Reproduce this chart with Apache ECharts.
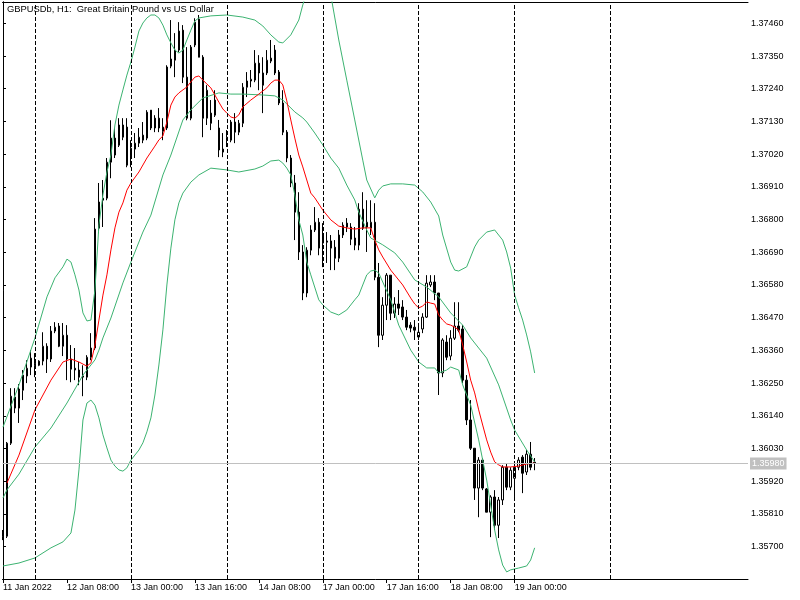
<!DOCTYPE html>
<html><head><meta charset="utf-8">
<script src="https://cdn.jsdelivr.net/npm/echarts@6/dist/echarts.min.js"></script>
<style>html,body{margin:0;padding:0;background:#fff}#c{width:800px;height:600px}</style>
</head><body><div id="c"></div>
<script>
const titleText = 'GBPUSDb, H1:  Great Britain Pound vs US Dollar';
const xTickBars = [0,16,32,48,64,80,96,112,128];
const xTickLabels = ['11 Jan 2022','12 Jan 08:00','13 Jan 00:00','13 Jan 16:00','14 Jan 08:00','17 Jan 00:00','17 Jan 16:00','18 Jan 08:00','19 Jan 00:00'];
const separatorBars = [8,32,56,80,104,128,152];
const yTicks = [1.357,1.3581,1.3592,1.3603,1.3614,1.3625,1.3636,1.3647,1.3658,1.3669,1.368,1.3691,1.3702,1.3713,1.3724,1.3735,1.3746];
const lastPrice = 1.35980;

const open = [1.35749,1.35735,1.36048,1.36203,1.36166,1.36226,1.36274,1.36304,1.36317,1.36310,
1.36324,1.36374,1.36331,1.36425,1.36442,1.36374,1.36411,1.36331,1.36300,1.36294,
1.36270,1.36270,1.36337,1.36368,1.36771,1.36865,1.36872,1.36993,1.37074,1.37050,
1.37077,1.37111,1.37017,1.37037,1.37057,1.37067,1.37161,1.37168,1.37141,1.37141,
1.37097,1.37108,1.37316,1.37336,1.37370,1.37437,1.37279,1.37141,1.37387,1.37474,
1.37346,1.37141,1.37158,1.37151,1.37108,1.37037,1.37067,1.37067,1.37128,1.37094,
1.37124,1.37245,1.37266,1.37269,1.37326,1.37293,1.37293,1.37333,1.37370,1.37296,
1.37192,1.37094,1.37007,1.36923,1.36825,1.36691,1.36553,1.36697,1.36765,1.36791,
1.36748,1.36728,1.36728,1.36707,1.36670,1.36748,1.36788,1.36775,1.36738,1.36714,
1.36835,1.36775,1.36771,1.36791,1.36606,1.36411,1.36512,1.36613,1.36485,1.36516,
1.36506,1.36472,1.36445,1.36438,1.36405,1.36432,1.36472,1.36580,1.36590,1.36553,
1.36284,1.36388,1.36341,1.36401,1.36442,1.36432,1.36260,1.36126,1.36031,1.35897,
1.35991,1.35894,1.35816,1.35867,1.35772,1.35857,1.35967,1.35900,1.35930,1.35967,
1.36001,1.35951,1.36011,1.35984];
const high = [1.35756,1.36052,1.36233,1.36233,1.36247,1.36294,1.36327,1.36361,1.36351,1.36327,
1.36421,1.36384,1.36442,1.36455,1.36452,1.36452,1.36445,1.36378,1.36368,1.36321,
1.36310,1.36344,1.36418,1.36805,1.36923,1.36933,1.37007,1.37134,1.37108,1.37141,
1.37141,1.37141,1.37067,1.37091,1.37108,1.37128,1.37168,1.37168,1.37151,1.37175,
1.37141,1.37319,1.37471,1.37427,1.37464,1.37454,1.37380,1.37387,1.37477,1.37488,
1.37353,1.37252,1.37202,1.37235,1.37135,1.37091,1.37101,1.37135,1.37158,1.37135,
1.37259,1.37296,1.37303,1.37370,1.37353,1.37346,1.37370,1.37404,1.37387,1.37303,
1.37235,1.37101,1.37017,1.36950,1.36892,1.36714,1.36707,1.36781,1.36842,1.36805,
1.36788,1.36758,1.36748,1.36731,1.36765,1.36791,1.36805,1.36788,1.36775,1.36855,
1.36892,1.36865,1.36865,1.36855,1.36654,1.36539,1.36620,1.36613,1.36539,1.36563,
1.36529,1.36496,1.36455,1.36462,1.36445,1.36485,1.36613,1.36613,1.36613,1.36553,
1.36401,1.36411,1.36428,1.36522,1.36522,1.36445,1.36277,1.36193,1.36031,1.36001,
1.35998,1.35897,1.35873,1.35890,1.35867,1.35974,1.35981,1.35967,1.35981,1.36001,
1.36008,1.36025,1.36052,1.35998];
const low = [1.35722,1.35729,1.36042,1.36149,1.36116,1.36193,1.36250,1.36277,1.36270,1.36307,
1.36310,1.36284,1.36321,1.36418,1.36371,1.36341,1.36260,1.36253,1.36260,1.36243,
1.36206,1.36260,1.36327,1.36361,1.36754,1.36775,1.36865,1.36939,1.37007,1.37044,
1.37067,1.36976,1.36976,1.37007,1.37044,1.37057,1.37067,1.37101,1.37094,1.37094,
1.37067,1.37101,1.37309,1.37279,1.37363,1.37259,1.37134,1.37134,1.37380,1.37346,
1.37077,1.37118,1.37101,1.37145,1.37010,1.37010,1.37044,1.37060,1.37057,1.37084,
1.37111,1.37212,1.37245,1.37262,1.37235,1.37158,1.37286,1.37326,1.37286,1.37185,
1.37084,1.36993,1.36909,1.36731,1.36664,1.36529,1.36539,1.36680,1.36758,1.36680,
1.36640,1.36654,1.36630,1.36630,1.36657,1.36738,1.36758,1.36714,1.36697,1.36697,
1.36765,1.36691,1.36748,1.36596,1.36371,1.36395,1.36462,1.36462,1.36469,1.36479,
1.36462,1.36428,1.36421,1.36395,1.36395,1.36418,1.36469,1.36573,1.36529,1.36210,
1.36270,1.36327,1.36327,1.36395,1.36421,1.36250,1.36109,1.36025,1.35857,1.35799,
1.35890,1.35816,1.35732,1.35756,1.35729,1.35840,1.35890,1.35890,1.35867,1.35957,
1.35880,1.35941,1.35957,1.35957];
const close = [1.35735,1.36048,1.36206,1.36166,1.36230,1.36277,1.36300,1.36334,1.36310,1.36324,
1.36374,1.36331,1.36425,1.36438,1.36374,1.36411,1.36331,1.36297,1.36294,1.36270,
1.36274,1.36337,1.36368,1.36768,1.36859,1.36872,1.36993,1.37074,1.37017,1.37118,
1.37118,1.36983,1.37040,1.37057,1.37077,1.37084,1.37074,1.37108,1.37108,1.37108,
1.37111,1.37313,1.37340,1.37370,1.37434,1.37279,1.37141,1.37380,1.37464,1.37346,
1.37141,1.37235,1.37124,1.37202,1.37034,1.37027,1.37077,1.37128,1.37094,1.37124,
1.37245,1.37266,1.37272,1.37326,1.37293,1.37252,1.37336,1.37343,1.37293,1.37192,
1.37094,1.37007,1.36923,1.36825,1.36691,1.36553,1.36697,1.36765,1.36791,1.36704,
1.36721,1.36724,1.36704,1.36670,1.36748,1.36781,1.36775,1.36734,1.36714,1.36835,
1.36771,1.36791,1.36791,1.36606,1.36411,1.36512,1.36613,1.36485,1.36516,1.36502,
1.36472,1.36438,1.36435,1.36428,1.36421,1.36472,1.36586,1.36590,1.36553,1.36284,
1.36395,1.36337,1.36401,1.36442,1.36428,1.36260,1.36126,1.36031,1.35897,1.35991,
1.35897,1.35816,1.35867,1.35772,1.35857,1.35967,1.35900,1.35957,1.35967,1.35991,
1.35947,1.36011,1.35967,1.35980];

const bbUpper = [[0,1.36102],[4,1.36244],[8,1.36402],[11,1.36540],[13,1.36604],[15,1.36641],[16,1.36667],[17,1.36657],[18,1.36614],[19,1.36563],[20,1.36486],[21,1.36459],[22,1.36462],[23,1.36563],[24,1.36782],[25,1.36883],[26,1.36960],[27,1.37017],[28,1.37118],[29,1.37185],[30,1.37236],[31,1.37286],[32,1.37330],[33,1.37380],[34,1.37434],[35,1.37461],[36,1.37478],[37,1.37488],[38,1.37488],[39,1.37478],[40,1.37454],[41,1.37421],[42,1.37394],[43,1.37370],[44,1.37360],[45,1.37370],[46,1.37404],[47,1.37437],[48,1.37468],[49,1.37478],[52,1.37485],[56,1.37488],[60,1.37481],[63,1.37471],[65,1.37451],[67,1.37421],[69,1.37397],[70,1.37394],[72,1.37421],[74,1.37471],[75,1.37522],[77,1.37606],[80,1.37639],[82,1.37555],[84,1.37404],[86,1.37269],[88,1.37135],[90,1.37000],[91,1.36933],[93,1.36873],[94,1.36899],[95,1.36913],[97,1.36920],[100,1.36920],[103,1.36916],[105,1.36893],[107,1.36859],[109,1.36812],[110,1.36748],[112,1.36657],[113,1.36630],[114,1.36627],[116,1.36641],[118,1.36708],[119,1.36731],[121,1.36758],[123,1.36765],[125,1.36731],[126,1.36691],[127,1.36637],[128,1.36546],[129,1.36503],[130,1.36462],[131,1.36412],[132,1.36355],[133,1.36284]];
const bbMiddle = [[0,1.35864],[1,1.35891],[4,1.35944],[8,1.36035],[12,1.36099],[16,1.36183],[20,1.36277],[22,1.36311],[23,1.36328],[24,1.36361],[25,1.36402],[27,1.36469],[30,1.36587],[32,1.36657],[35,1.36758],[37,1.36815],[40,1.36950],[42,1.37017],[45,1.37135],[47,1.37169],[50,1.37209],[54,1.37226],[57,1.37222],[60,1.37222],[65,1.37219],[68,1.37216],[70,1.37202],[71,1.37189],[73,1.37162],[75,1.37142],[76,1.37128],[78,1.37091],[80,1.37051],[82,1.37007],[84,1.36973],[86,1.36916],[88,1.36866],[89,1.36825],[91,1.36765],[92,1.36738],[95,1.36715],[98,1.36688],[100,1.36657],[103,1.36597],[106,1.36573],[109,1.36540],[112,1.36486],[115,1.36445],[117,1.36402],[121,1.36334],[124,1.36244],[127,1.36126],[128,1.36092],[131,1.36025],[133,1.35985]];
const bbLower = [[0,1.35635],[4,1.35645],[8,1.35662],[12,1.35696],[15,1.35716],[17,1.35746],[18,1.35823],[19,1.35958],[20,1.36126],[21,1.36183],[22,1.36193],[23,1.36176],[24,1.36133],[25,1.36076],[26,1.36032],[27,1.35991],[28,1.35971],[29,1.35958],[30,1.35954],[31,1.35965],[32,1.35991],[34,1.36025],[35,1.36049],[36,1.36086],[37,1.36133],[38,1.36210],[39,1.36311],[40,1.36429],[41,1.36580],[42,1.36704],[43,1.36799],[44,1.36856],[45,1.36889],[47,1.36926],[49,1.36950],[52,1.36973],[56,1.36967],[59,1.36960],[63,1.36970],[65,1.36980],[67,1.36997],[69,1.37000],[70,1.36990],[71,1.36973],[72,1.36950],[73,1.36883],[74,1.36799],[75,1.36748],[76,1.36657],[77,1.36614],[79,1.36530],[80,1.36513],[82,1.36489],[84,1.36479],[86,1.36496],[88,1.36530],[89,1.36546],[90,1.36580],[91,1.36614],[92,1.36627],[93,1.36630],[94,1.36620],[95,1.36590],[97,1.36530],[99,1.36445],[102,1.36361],[104,1.36321],[106,1.36301],[108,1.36301],[109,1.36284],[111,1.36294],[112,1.36304],[114,1.36294],[115,1.36244],[117,1.36176],[119,1.36059],[121,1.35924],[122,1.35840],[123,1.35756],[124,1.35689],[125,1.35638],[126,1.35615],[127,1.35622],[129,1.35628],[131,1.35635],[132,1.35655],[133,1.35696]];
const maRed = [[1,1.35914],[4,1.36008],[8,1.36160],[12,1.36260],[15,1.36321],[17,1.36331],[19,1.36321],[21,1.36307],[22,1.36318],[23,1.36378],[24,1.36462],[25,1.36546],[26,1.36614],[27,1.36698],[28,1.36772],[29,1.36825],[30,1.36856],[31,1.36899],[32,1.36923],[34,1.36960],[36,1.37007],[38,1.37047],[39,1.37068],[40,1.37081],[41,1.37128],[42,1.37185],[43,1.37212],[44,1.37226],[46,1.37246],[47,1.37263],[48,1.37279],[49,1.37283],[50,1.37269],[51,1.37256],[52,1.37243],[53,1.37219],[54,1.37195],[55,1.37172],[56,1.37158],[57,1.37145],[58,1.37141],[59,1.37152],[60,1.37179],[62,1.37202],[64,1.37222],[66,1.37243],[67,1.37259],[68,1.37269],[69,1.37269],[70,1.37253],[71,1.37199],[72,1.37135],[73,1.37074],[74,1.37017],[75,1.36977],[76,1.36933],[77,1.36889],[78,1.36873],[80,1.36832],[82,1.36799],[84,1.36778],[86,1.36772],[88,1.36768],[90,1.36772],[92,1.36772],[93,1.36731],[94,1.36698],[95,1.36674],[97,1.36630],[100,1.36580],[102,1.36536],[103,1.36516],[104,1.36503],[105,1.36509],[106,1.36523],[107,1.36519],[108,1.36516],[109,1.36479],[110,1.36462],[111,1.36449],[112,1.36445],[113,1.36438],[114,1.36429],[115,1.36378],[116,1.36321],[117,1.36260],[118,1.36217],[119,1.36160],[120,1.36109],[121,1.36059],[122,1.36018],[123,1.35985],[124,1.35975],[125,1.35968],[127,1.35968],[129,1.35971],[131,1.35978],[133,1.35981]];

const Y_MIN = 1.355912, Y_MAX = 1.375317;
const FONT = 'Liberation Sans, Arial, sans-serif';
const candles = open.map((o, i) => [i, o, close[i], low[i], high[i]]);

const chart = echarts.init(document.getElementById('c'), null, {renderer: 'canvas'});
const green = '#3CB371';
chart.setOption({
  animation: false,
  backgroundColor: '#fff',
  title: {text: titleText, left: 7, top: 5, padding: 0, textStyle: {fontSize: 9.4, fontWeight: 'normal', color: '#000', fontFamily: FONT}},
  grid: {left: 2, top: 2, right: 52, bottom: 21, show: false},
  xAxis: [{
    type: 'value', min: -0.125, max: 186.375, position: 'bottom',
    axisLine: {show: true, lineStyle: {color: '#000', width: 1}},
    axisTick: {show: true, length: 4, lineStyle: {color: '#000'}, customValues: xTickBars},
    axisLabel: {show: true, customValues: xTickBars, align: 'left', margin: 4, fontSize: 9, color: '#000', fontFamily: FONT,
      formatter: v => xTickLabels[xTickBars.indexOf(Math.round(v))] || ''},
    splitLine: {show: false}
  }, {
    type: 'value', min: -0.125, max: 186.375, position: 'top',
    axisLine: {show: true, lineStyle: {color: '#000', width: 1}},
    axisTick: {show: false}, axisLabel: {show: false}, splitLine: {show: false}
  }],
  yAxis: [{
    type: 'value', min: Y_MIN, max: Y_MAX, position: 'right',
    axisLine: {show: true, lineStyle: {color: '#000', width: 1}},
    axisTick: {show: true, length: 3, lineStyle: {color: '#000'}, customValues: yTicks},
    axisLabel: {show: true, customValues: yTicks, margin: 3, fontSize: 9, color: '#000', fontFamily: FONT,
      formatter: v => v.toFixed(5)},
    splitLine: {show: false}
  }, {
    type: 'value', min: Y_MIN, max: Y_MAX, position: 'left',
    axisLine: {show: true, lineStyle: {color: '#000', width: 1}},
    axisTick: {show: false}, axisLabel: {show: false}, splitLine: {show: false}
  }],
  series: [{
    type: 'candlestick', xAxisIndex: 0, yAxisIndex: 0, barWidth: 2, z: 2,
    data: candles,
    itemStyle: {color: '#fff', color0: '#000', borderColor: '#000', borderColor0: '#000', borderWidth: 1},
    markLine: {
      silent: true, symbol: ['none', 'none'], animation: false, precision: 5,
      data: separatorBars.map(b => ({xAxis: b, lineStyle: {type: [4, 2], color: '#000', width: 1}, label: {show: false}}))
        .concat([{yAxis: lastPrice, lineStyle: {type: 'solid', color: '#c0c0c0', width: 1},
          label: {show: true, position: 'end', distance: 2, formatter: lastPrice.toFixed(5), color: '#fff', backgroundColor: '#c0c0c0',
            padding: [2, 2, 1, 2], fontSize: 9, fontFamily: FONT}}])
    }
  },
  {type: 'line', data: bbUpper, showSymbol: false, lineStyle: {color: green, width: 1}, z: 3},
  {type: 'line', data: bbMiddle, showSymbol: false, lineStyle: {color: green, width: 1}, z: 3},
  {type: 'line', data: bbLower, showSymbol: false, lineStyle: {color: green, width: 1}, z: 3},
  {type: 'line', data: maRed, showSymbol: false, lineStyle: {color: '#ff0000', width: 1}, z: 4}
  ]
});
</script></body></html>
